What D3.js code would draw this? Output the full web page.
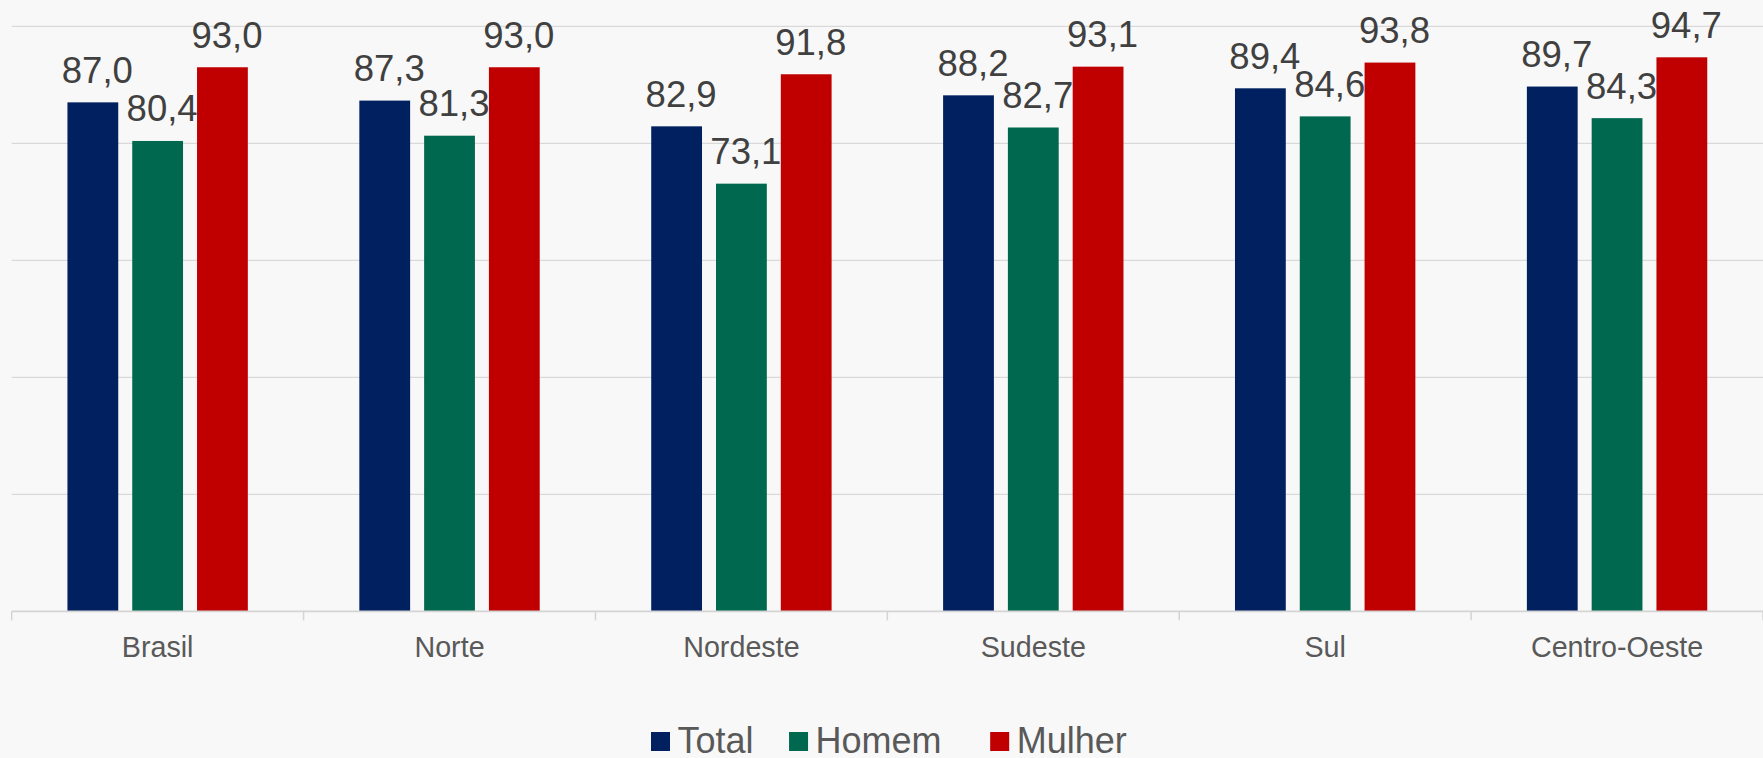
<!DOCTYPE html>
<html>
<head>
<meta charset="utf-8">
<script src="https://cdn.jsdelivr.net/npm/d3@7"></script>
<style>
  html, body { margin: 0; padding: 0; background: #f8f8f8; }
  svg { display: block; font-family: "Liberation Sans", Arial, sans-serif; }
</style>
</head>
<body>
<div id="chart"></div>
<script>
// data
var categories = ["Brasil", "Norte", "Nordeste", "Sudeste", "Sul", "Centro-Oeste"];
var seriesNames = ["Total", "Homem", "Mulher"];
var total  = [87.0, 87.3, 82.9, 88.2, 89.4, 89.7];
var homem  = [80.4, 81.3, 73.1, 82.7, 84.6, 84.3];
var mulher = [93.0, 93.0, 91.8, 93.1, 93.8, 94.7];
var gridValues = [0, 20, 40, 60, 80, 100];

var colors = {Total: "#002060", Homem: "#00684e", Mulher: "#c00000"};

var W = 1763, H = 758;
var margin = {top: 26.3, right: 0, bottom: 146.7, left: 11.7};
var width = W - margin.left - margin.right,
    height = H - margin.top - margin.bottom;

// build rows for the bars
var rows = [];
categories.forEach(function(c, i) {
  rows.push({cat: c, series: "Total", value: total[i]});
  rows.push({cat: c, series: "Homem", value: homem[i]});
  rows.push({cat: c, series: "Mulher", value: mulher[i]});
});

var ptBR = d3.formatLocale({decimal: ",", thousands: ".", grouping: [3], currency: ["R$", ""]});
var fmt = ptBR.format(".1f");

var svg = d3.select("#chart").append("svg")
  .attr("width", W)
  .attr("height", H);

svg.append("rect").attr("width", W).attr("height", H).attr("fill", "#f8f8f8");

var g = svg.append("g")
  .attr("transform", "translate(" + margin.left + "," + margin.top + ")");

// scales
var x = d3.scaleBand()
  .domain(categories)
  .range([0, width])
  .padding(0);

var groupW = x.bandwidth() * 0.618;
var xs = d3.scaleBand()
  .domain(seriesNames)
  .range([(x.bandwidth() - groupW) / 2, (x.bandwidth() + groupW) / 2])
  .paddingInner(0.216)
  .paddingOuter(0);

var y = d3.scaleLinear()
  .domain([0, 100])
  .range([height, 0]);

// gridlines
g.append("g")
  .selectAll("line")
  .data(gridValues.filter(function(v) { return v > 0; }))
  .join("line")
  .attr("x1", 0)
  .attr("x2", width)
  .attr("y1", function(d) { return y(d); })
  .attr("y2", function(d) { return y(d); })
  .attr("stroke", "#d9d9d9")
  .attr("stroke-width", 1.3);

// bars
g.append("g")
  .selectAll("rect")
  .data(rows)
  .join("rect")
  .attr("x", function(d) { return x(d.cat) + xs(d.series); })
  .attr("y", function(d) { return y(d.value); })
  .attr("width", xs.bandwidth())
  .attr("height", function(d) { return y(0) - y(d.value); })
  .attr("fill", function(d) { return colors[d.series]; });

// value labels
g.append("g")
  .selectAll("text")
  .data(rows)
  .join("text")
  .attr("x", function(d) { return x(d.cat) + xs(d.series) + xs.bandwidth() / 2 + 4.5; })
  .attr("y", function(d) { return y(d.value) - 19.5; })
  .attr("text-anchor", "middle")
  .attr("fill", "#404040")
  .style("font-size", "36.5px")
  .text(function(d) { return fmt(d.value); });

// x axis
var xAxis = g.append("g")
  .attr("transform", "translate(0," + height + ")");

xAxis.append("line")
  .attr("x1", 0).attr("x2", width)
  .attr("stroke", "#d4d4d4")
  .attr("stroke-width", 1.8);

var bounds = categories.map(function(c) { return x(c); }).concat([width]);
xAxis.selectAll(".tick")
  .data(bounds)
  .join("line")
  .attr("class", "tick")
  .attr("x1", function(d) { return d; })
  .attr("x2", function(d) { return d; })
  .attr("y1", 0)
  .attr("y2", 9)
  .attr("stroke", "#d4d4d4")
  .attr("stroke-width", 1.5);

xAxis.selectAll(".cat")
  .data(categories)
  .join("text")
  .attr("class", "cat")
  .attr("x", function(d) { return x(d) + x.bandwidth() / 2; })
  .attr("y", 45.4)
  .attr("text-anchor", "middle")
  .attr("fill", "#595959")
  .style("font-size", "28.7px")
  .text(function(d) { return d; });

// legend
var legend = svg.append("g");
var sq = 19, gapTxt = 7.5, legY = 753;
var itemGaps = [35.5, 48.6];
var items = legend.selectAll("g")
  .data(seriesNames)
  .join("g");

items.append("rect")
  .attr("width", sq)
  .attr("height", sq)
  .attr("y", legY - 21)
  .attr("fill", function(d) { return colors[d]; });

items.append("text")
  .attr("x", sq + gapTxt)
  .attr("y", legY)
  .attr("fill", "#595959")
  .style("font-size", "36px")
  .text(function(d) { return d; });

var offs = [], cur = 651;
items.each(function(d, i) {
  offs.push(cur);
  cur += sq + gapTxt + d3.select(this).select("text").node().getComputedTextLength() + (itemGaps[i] || 0);
});
items.attr("transform", function(d, i) { return "translate(" + offs[i] + ",0)"; });
</script>
</body>
</html>
